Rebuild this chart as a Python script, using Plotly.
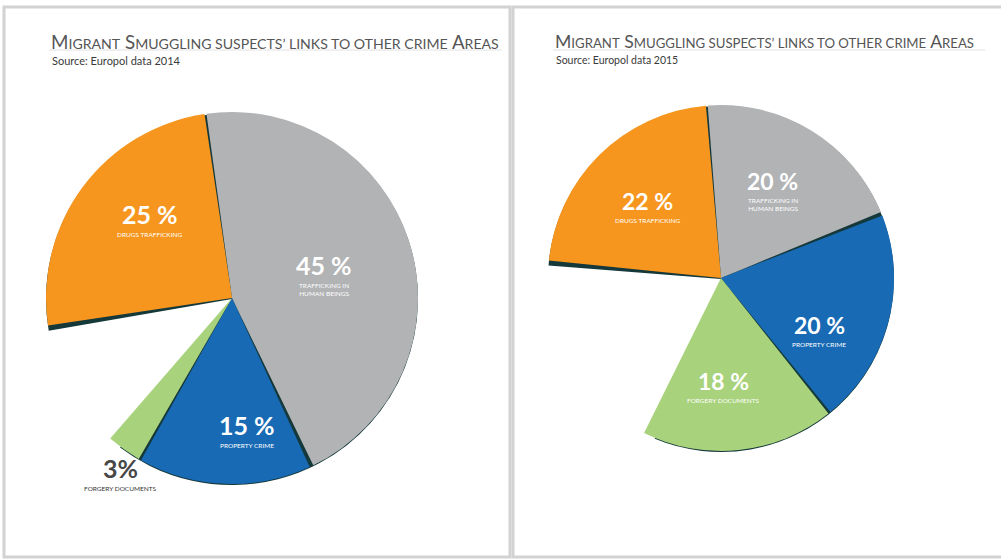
import math
import plotly.graph_objects as go

W, H = 1001, 559

# ---------------- data ----------------
categories = ["TRAFFICKING IN HUMAN BEINGS", "PROPERTY CRIME", "FORGERY DOCUMENTS", "DRUGS TRAFFICKING"]
category_text = ["TRAFFICKING IN<br>HUMAN BEINGS", "PROPERTY CRIME", "FORGERY DOCUMENTS", "DRUGS TRAFFICKING"]
years = ["2014", "2015"]
share_2014 = [45, 15, 3, 25]
share_2015 = [20, 20, 18, 22]
gap_label = "Other crime areas"

# ---------------- style ----------------
slice_colors = ["#b1b3b5", "#176ab3", "#a8d27b", "#f6961e"]
shadow_color = "#15383a"
CLEAR = "rgba(0,0,0,0)"
NUM_FONT = "Lato"
SUB_FONT = "Lato"
TITLE_FONT = "Lato"

def px(x):
    return x / W

def py(y):
    return 1 - y / H

fig = go.Figure()
annotations = []
shapes = []

# panel frames
for x0, x1 in [(4, 510), (513, 1005)]:
    shapes.append(dict(type="rect", xref="paper", yref="paper",
                       x0=px(x0), x1=px(x1), y0=py(557), y1=py(7),
                       line=dict(color="#d2d2d2", width=3), fillcolor=CLEAR, layer="below"))

charts = [
    dict(year=years[0], vals=share_2014, cx=232, cy=298, r=186, rot=-8.5,
         tx=49, tline=(49, 502), num=25, big=18.8, small=14.1, src=11,
         nudge=[-1.9, -8.9, -2.5, 8.5], rf=[0.52, 0.70, 1.1, 0.627],
         inside=[True, True, False, True]),
    dict(year=years[1], vals=share_2015, cx=721, cy=278, r=173, rot=-5.0,
         tx=553, tline=(553, 985), num=23, big=17.6, small=13.2, src=10.5,
         nudge=[-2.9, 11.8, 4.9, 0.0], rf=[0.625, 0.634, 0.607, 0.609],
         inside=[True, True, True, True]),
]

# angular offsets that open thin seams between slices (style only)
seam = [0.6, 1.8, 2.6, 0.0]


def title_html(sm):
    s = f"<span style='font-size:{sm}px'>"
    return (f"M{s}IGRANT</span> S{s}MUGGLING SUSPECTS\u2019 LINKS TO OTHER CRIME</span> A{s}REAS</span>")


for ch in charts:
    vals = ch["vals"]
    gap = 100 - sum(vals)
    pie_vals = vals[:3] + [gap] + vals[3:]
    pie_labels = categories[:3] + [gap_label] + categories[3:]
    cx, cy, r = ch["cx"], ch["cy"], ch["r"]

    def dom(dy=0):
        return dict(x=[px(cx - r), px(cx + r)], y=[py(cy + dy + r), py(cy + dy - r)])

    # shadow
    fig.add_trace(go.Pie(values=pie_vals, labels=pie_labels, sort=False, direction="clockwise",
                         rotation=ch["rot"] - 1.3, domain=dom(1),
                         marker=dict(colors=[shadow_color] * 3 + [CLEAR] + [shadow_color],
                                     line=dict(width=0)),
                         textinfo="none", hoverinfo="skip", showlegend=False))
    # slices (one trace per slice)
    idx_map = [0, 1, 2, 4]
    for k, pi in enumerate(idx_map):
        cols = [CLEAR] * 5
        cols[pi] = slice_colors[k]
        fig.add_trace(go.Pie(values=pie_vals, labels=pie_labels, sort=False, direction="clockwise",
                             rotation=ch["rot"] + seam[k], domain=dom(0),
                             marker=dict(colors=cols, line=dict(width=0)),
                             textinfo="none", hoverinfo="skip", showlegend=False))

    # labels from data: bisector angle of each slice
    cum = 0
    starts = []
    for v in pie_vals:
        starts.append(cum)
        cum += v
    for k, pi in enumerate(idx_map):
        a0 = ch["rot"] + seam[k] + starts[pi] * 3.6
        mid = a0 + pie_vals[pi] * 1.8 + ch["nudge"][k]
        rr = r * ch["rf"][k]
        lx = cx + rr * math.sin(math.radians(mid))
        ly = cy - rr * math.cos(math.radians(mid)) - 2
        inside = ch["inside"][k]
        ncol = "white" if inside else "#474747"
        scol = "white" if inside else "#333333"
        txt = f"{vals[k]} %" if inside else f"{vals[k]}%"
        annotations.append(dict(x=px(lx), y=py(ly), xref="paper", yref="paper",
                                text=f"<b>{txt}</b>", showarrow=False, borderpad=0,
                                xanchor="center", yanchor="middle",
                                font=dict(family=NUM_FONT, size=ch["num"], color=ncol)))
        annotations.append(dict(x=px(lx), y=py(ly + 0.6 * ch["num"] + 1), xref="paper", yref="paper",
                                text=category_text[k], showarrow=False, borderpad=0,
                                xanchor="center", yanchor="top",
                                font=dict(family=SUB_FONT, size=6.5, color=scol)))

    # title, underline, source
    annotations.append(dict(x=px(ch["tx"]), y=py(41), xref="paper", yref="paper",
                            text=title_html(ch["small"]), showarrow=False, xanchor="left", yanchor="middle",
                            font=dict(family=TITLE_FONT, size=ch["big"], color="#555555")))
    annotations.append(dict(x=px(ch["tx"] + 1), y=py(60), xref="paper", yref="paper",
                            text=f"Source: Europol data {ch['year']}", showarrow=False,
                            xanchor="left", yanchor="middle",
                            font=dict(family=TITLE_FONT, size=ch["src"], color="#3a3a3a")))
    shapes.append(dict(type="line", xref="paper", yref="paper",
                       x0=px(ch["tline"][0]), x1=px(ch["tline"][1]), y0=py(50), y1=py(50),
                       line=dict(color="#e2e2e2", width=1)))

fig.update_layout(width=W, height=H, margin=dict(l=0, r=0, t=0, b=0),
                  paper_bgcolor="white", plot_bgcolor="white",
                  showlegend=False, annotations=annotations, shapes=shapes)

fig.write_html("out.html")
